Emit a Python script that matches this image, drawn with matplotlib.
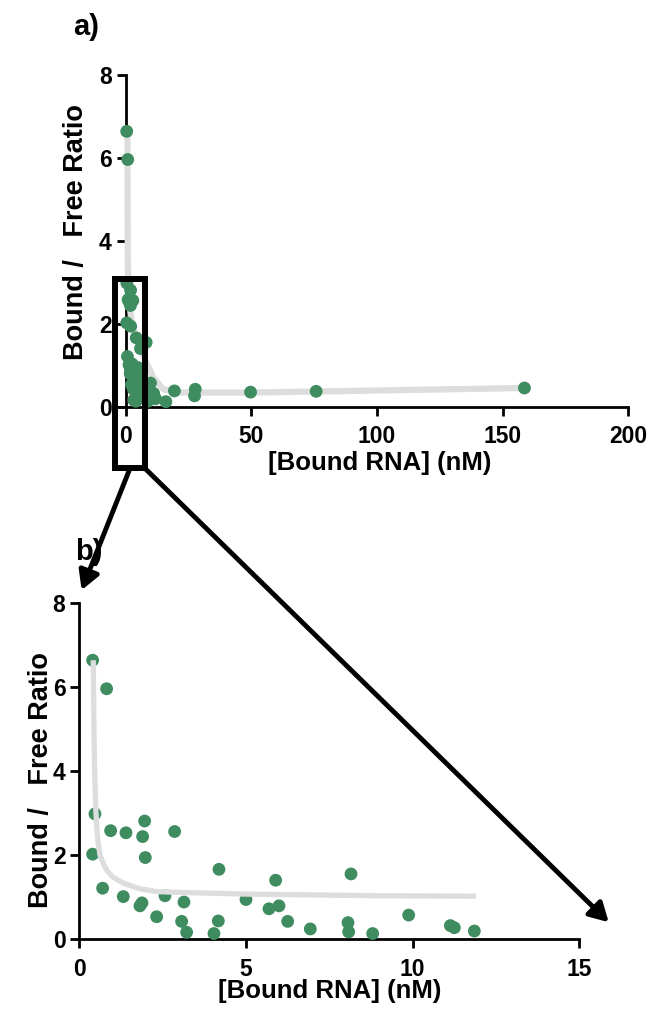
import numpy as np
import matplotlib
matplotlib.use("Agg")
import matplotlib.pyplot as plt
from matplotlib.patches import Rectangle, ConnectionPatch

plt.rcParams['font.family'] = ['Liberation Sans', 'DejaVu Sans']
plt.rcParams['font.weight'] = 'bold'

# Scatchard data: bound RNA (nM) vs bound/free ratio
bound_low = [0.40, 0.82, 0.47, 0.40, 0.94, 1.40, 1.96, 1.90, 1.98, 2.86,
             0.70, 1.32, 1.82, 1.88, 2.57, 3.14, 2.32, 3.07, 3.22, 4.04,
             4.17, 4.19, 5.00, 5.89, 5.69, 5.99, 6.25, 6.93, 8.06, 8.08,
             8.15, 8.80, 9.88, 11.13, 11.25, 11.85]
ratio_low = [6.64, 5.96, 2.98, 2.02, 2.58, 2.53, 2.81, 2.44, 1.94, 2.56,
             1.21, 1.01, 0.79, 0.86, 1.03, 0.88, 0.53, 0.42, 0.16, 0.13,
             0.43, 1.66, 0.94, 1.40, 0.72, 0.79, 0.42, 0.24, 0.39, 0.17,
             1.55, 0.13, 0.57, 0.32, 0.27, 0.19]
bound_high = [16.0, 19.4, 27.7, 27.4, 49.7, 75.8, 158.7]
ratio_high = [0.12, 0.38, 0.42, 0.26, 0.35, 0.37, 0.45]

# fitted curves
fit_a_x = [0.70, 0.75, 0.85, 1.20, 2.50, 5.00, 8.00, 11.0, 15.0, 22.0, 50.0, 100.0, 158.7]
fit_a_y = [6.70, 5.00, 3.50, 2.60, 2.00, 1.50, 1.10, 0.70, 0.42, 0.34, 0.34, 0.39, 0.45]
fit_b_x = [0.42, 0.44, 0.46, 0.50, 0.55, 0.62, 0.72, 0.82, 1.00, 1.32, 1.80, 2.32,
           3.00, 4.00, 5.00, 7.00, 9.00, 11.90]
fit_b_y = [6.64, 5.00, 4.00, 3.00, 2.40, 2.00, 1.80, 1.64, 1.48, 1.33, 1.20, 1.13,
           1.11, 1.09, 1.07, 1.05, 1.03, 1.02]

yticks = [0, 2, 4, 6, 8]
xticks_a = [0, 50, 100, 150, 200]
xticks_b = [0, 5, 10, 15]

GREEN = '#3f8c60'
GREY = '#dddddd'
YLABEL = 'Bound /   Free Ratio'
XLABEL = '[Bound RNA] (nM)'

fig = plt.figure(figsize=(6.52, 10.21), dpi=100)
ax_a = fig.add_axes([0.1735, 0.6017, 0.790, 0.3249])
ax_b = fig.add_axes([0.1216, 0.0803, 0.767, 0.3290])


def style_axis(ax):
    for side in ('top', 'right'):
        ax.spines[side].set_visible(False)
    for side in ('left', 'bottom'):
        ax.spines[side].set_linewidth(2.0)
    ax.tick_params(axis='both', width=2.0, length=6.5, labelsize=16.5)
    ax.tick_params(axis='x', pad=7.0)
    ax.tick_params(axis='y', pad=3.5)
    for lab in ax.get_xticklabels() + ax.get_yticklabels():
        lab.set_fontweight('bold')


# a) full range
x_all = np.array(bound_low + bound_high)
y_all = np.array(ratio_low + ratio_high)
ax_a.plot(fit_a_x, fit_a_y, color=GREY, lw=4.5, solid_capstyle='butt', zorder=3)
ax_a.scatter(x_all, y_all, s=85, color=GREEN, edgecolor='none', zorder=4, clip_on=False)
ax_a.set_xlim(-5, 200)
ax_a.set_ylim(0, 8)
ax_a.set_xticks(xticks_a)
ax_a.set_yticks(yticks)
ax_a.spines['left'].set_position(('data', 0))
style_axis(ax_a)
ax_a.set_xlabel(XLABEL, fontsize=18.5, fontweight='bold')
ax_a.set_ylabel(YLABEL, fontsize=19.5, fontweight='bold')
ax_a.xaxis.set_label_coords(0.518, -0.135)
ax_a.yaxis.set_label_coords(-0.047, 0.527)

# zoom box around the low-concentration points
box = Rectangle((-4.4, -1.49), 12.1, 4.57, fill=False, lw=4.3,
                edgecolor='black', clip_on=False, zorder=5)
ax_a.add_patch(box)

# b) low range
ax_b.scatter(bound_low, ratio_low, s=85, color=GREEN, edgecolor='none', zorder=3, clip_on=False)
ax_b.plot(fit_b_x, fit_b_y, color=GREY, lw=3.8, solid_capstyle='butt', zorder=4)
ax_b.set_xlim(0, 15)
ax_b.set_ylim(0, 8)
ax_b.set_xticks(xticks_b)
ax_b.set_yticks(yticks)
style_axis(ax_b)
ax_b.set_xlabel(XLABEL, fontsize=18.5, fontweight='bold')
ax_b.set_ylabel(YLABEL, fontsize=19.5, fontweight='bold')
ax_b.xaxis.set_label_coords(0.50, -0.118)
ax_b.yaxis.set_label_coords(-0.05, 0.473)

# arrows from the zoom box down to panel b
for start, end in [((1.7, -1.49), (0.07, 8.31)), ((7.7, -1.49), (15.88, 0.40))]:
    con = ConnectionPatch(xyA=start, coordsA=ax_a.transData,
                          xyB=end, coordsB=ax_b.transData,
                          arrowstyle='-|>,head_length=0.8,head_width=0.45',
                          mutation_scale=14, lw=3.5, color='black', zorder=6)
    fig.add_artist(con)

fig.text(0.1115, 0.9657, 'a)', fontsize=21, fontweight='bold', va='baseline')
fig.text(0.1150, 0.4515, 'b)', fontsize=21, fontweight='bold', va='baseline')

fig.savefig('out.png', dpi=100)
